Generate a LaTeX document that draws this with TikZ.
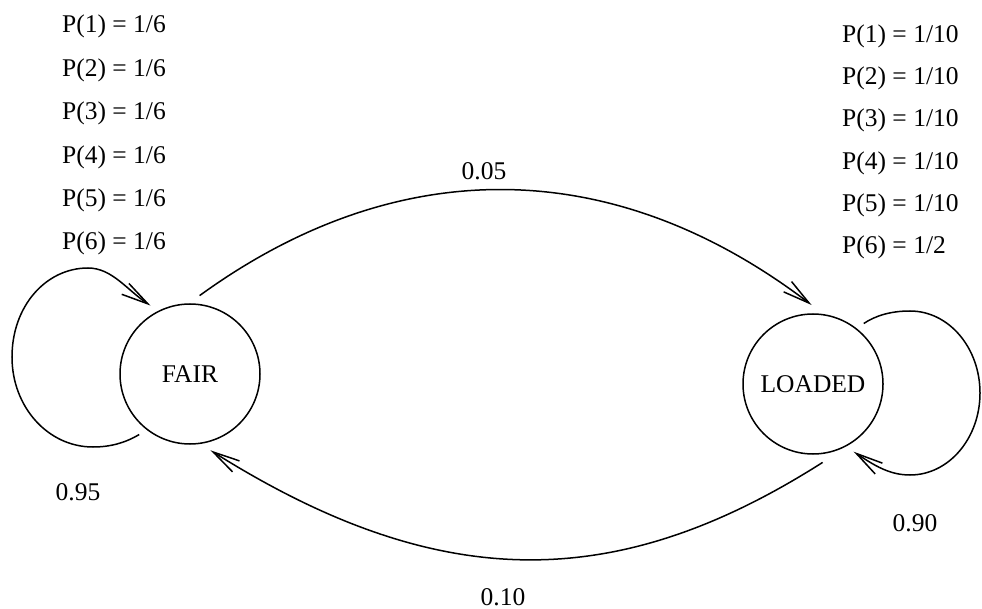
\documentclass[tikz,border=0pt]{standalone}
\usepackage{fontspec}
\setmainfont{Liberation Serif}
\usetikzlibrary{arrows.meta}
\begin{document}
\begin{tikzpicture}[x=1pt,y=-1pt,
  txt/.style={font=\fontsize{25.5}{30}\selectfont, inner sep=0pt},
  state/.style={txt, draw, circle, line width=1.5pt, minimum size=140pt, outer sep=9pt},
  trans/.style={line width=1.5pt, -{Straight Barb[length=27pt,width=13pt,line width=1.5pt]}}]
\useasboundingbox (0,0) rectangle (982,609);

% the two states
\node[state] (fair) at (190,374) {FAIR};
\node[state] (loaded) at (813,384) {LOADED};

% emission probabilities
\node[txt, anchor=base west] (f1) at (62,33)  {P(1) = 1/6};
\node[txt, anchor=base west] (f2) at (62,77)  {P(2) = 1/6};
\node[txt, anchor=base west] (f3) at (62,120) {P(3) = 1/6};
\node[txt, anchor=base west] (f4) at (62,164) {P(4) = 1/6};
\node[txt, anchor=base west] (f5) at (62,207) {P(5) = 1/6};
\node[txt, anchor=base west] (f6) at (62,250) {P(6) = 1/6};

\node[txt, anchor=base west] (l1) at (842,43)  {P(1) = 1/10};
\node[txt, anchor=base west] (l2) at (842,85)  {P(2) = 1/10};
\node[txt, anchor=base west] (l3) at (842,127) {P(3) = 1/10};
\node[txt, anchor=base west] (l4) at (842,170) {P(4) = 1/10};
\node[txt, anchor=base west] (l5) at (842,212) {P(5) = 1/10};
\node[txt, anchor=base west] (l6) at (842,254) {P(6) = 1/2};

% transitions between states
\draw[trans] (fair.83) .. controls (396,153) and (612,153) .. (loaded.91);
\draw[trans] (loaded.277) .. controls (616,594) and (439,594) .. (fair.285);

% self loops
\draw[trans] (fair.230) .. controls (125,443) and (110,447) .. (93,447)
  .. controls (48,447) and (12,407) .. (12,357)
  .. controls (12,306) and (46,268) .. (88,268)
  .. controls (112,268) and (127,290) .. (fair.120);
\draw[trans] (loaded.50) .. controls (875,316) and (890,311) .. (910,311)
  .. controls (949,311) and (980,348) .. (980,393)
  .. controls (980,438) and (949,475) .. (910,475)
  .. controls (890,475) and (875,466) .. (loaded.301);

% transition probabilities
\node[txt] (p05) at (484,171) {0.05};
\node[txt] (p10) at (503,597) {0.10};
\node[txt] (p95) at (78,492)  {0.95};
\node[txt] (p90) at (915,523) {0.90};
\end{tikzpicture}
\end{document}
